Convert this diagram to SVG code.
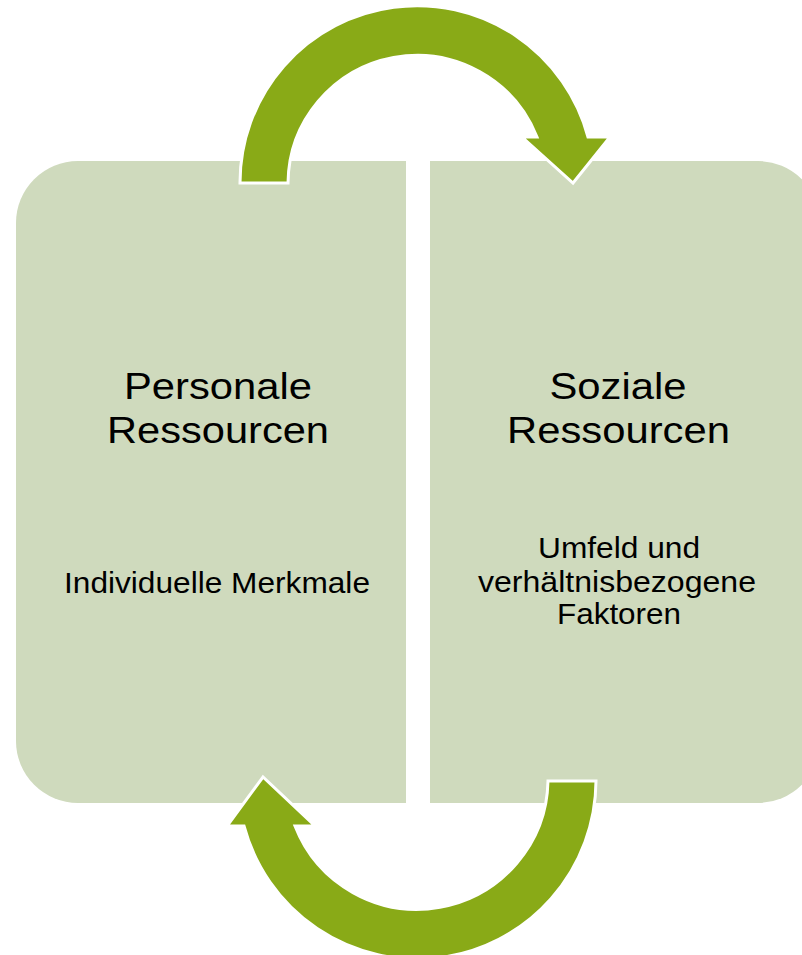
<svg xmlns="http://www.w3.org/2000/svg" width="802" height="955" viewBox="0 0 802 955">
<style>
.box{fill:#cfdabd}
.arrow{fill:#89aa17;stroke:#ffffff;stroke-width:3;stroke-linejoin:miter}
.t{font-family:"Liberation Sans",Arial,sans-serif;fill:#000;text-anchor:middle}
.h{font-size:37.5px}
.s{font-size:29.5px}
</style>
<rect width="802" height="955" fill="#ffffff"/>
<g id="node-personal">
<path class="box" d="M 406,161 L 78,161 A 62 62 0 0 0 16,223 L 16,741 A 62 62 0 0 0 78,803 L 406,803 Z"/>
<text class="t h" x="218" y="399" textLength="188" lengthAdjust="spacingAndGlyphs">Personale</text>
<text class="t h" x="218" y="443" textLength="222" lengthAdjust="spacingAndGlyphs">Ressourcen</text>
<text class="t s" x="217" y="593" textLength="306" lengthAdjust="spacingAndGlyphs">Individuelle Merkmale</text>
</g>
<g id="node-sozial">
<path class="box" d="M 430,161 L 758,161 A 62 62 0 0 1 820,223 L 820,741 A 62 62 0 0 1 758,803 L 430,803 Z"/>
<text class="t h" x="618" y="399" textLength="137" lengthAdjust="spacingAndGlyphs">Soziale</text>
<text class="t h" x="618.5" y="443" textLength="223" lengthAdjust="spacingAndGlyphs">Ressourcen</text>
<text class="t s" x="619" y="558" textLength="162" lengthAdjust="spacingAndGlyphs">Umfeld und</text>
<text class="t s" x="617" y="592" textLength="278" lengthAdjust="spacingAndGlyphs">verhältnisbezogene</text>
<text class="t s" x="619" y="624" textLength="124" lengthAdjust="spacingAndGlyphs">Faktoren</text>
</g>
<g id="connectors">
<path class="arrow" d="M 240,183 A 177 177 0 0 1 588,137 L 610,137 L 573,183 L 522,137 L 537,137 A 129 129 0 0 0 288,183 Z"/>
<path class="arrow" d="M 596,781 A 179 179 0 0 1 244,826 L 227,826 L 263,777 L 315,826 L 295,826 A 131 131 0 0 0 548,781 Z"/>
</g>
</svg>
